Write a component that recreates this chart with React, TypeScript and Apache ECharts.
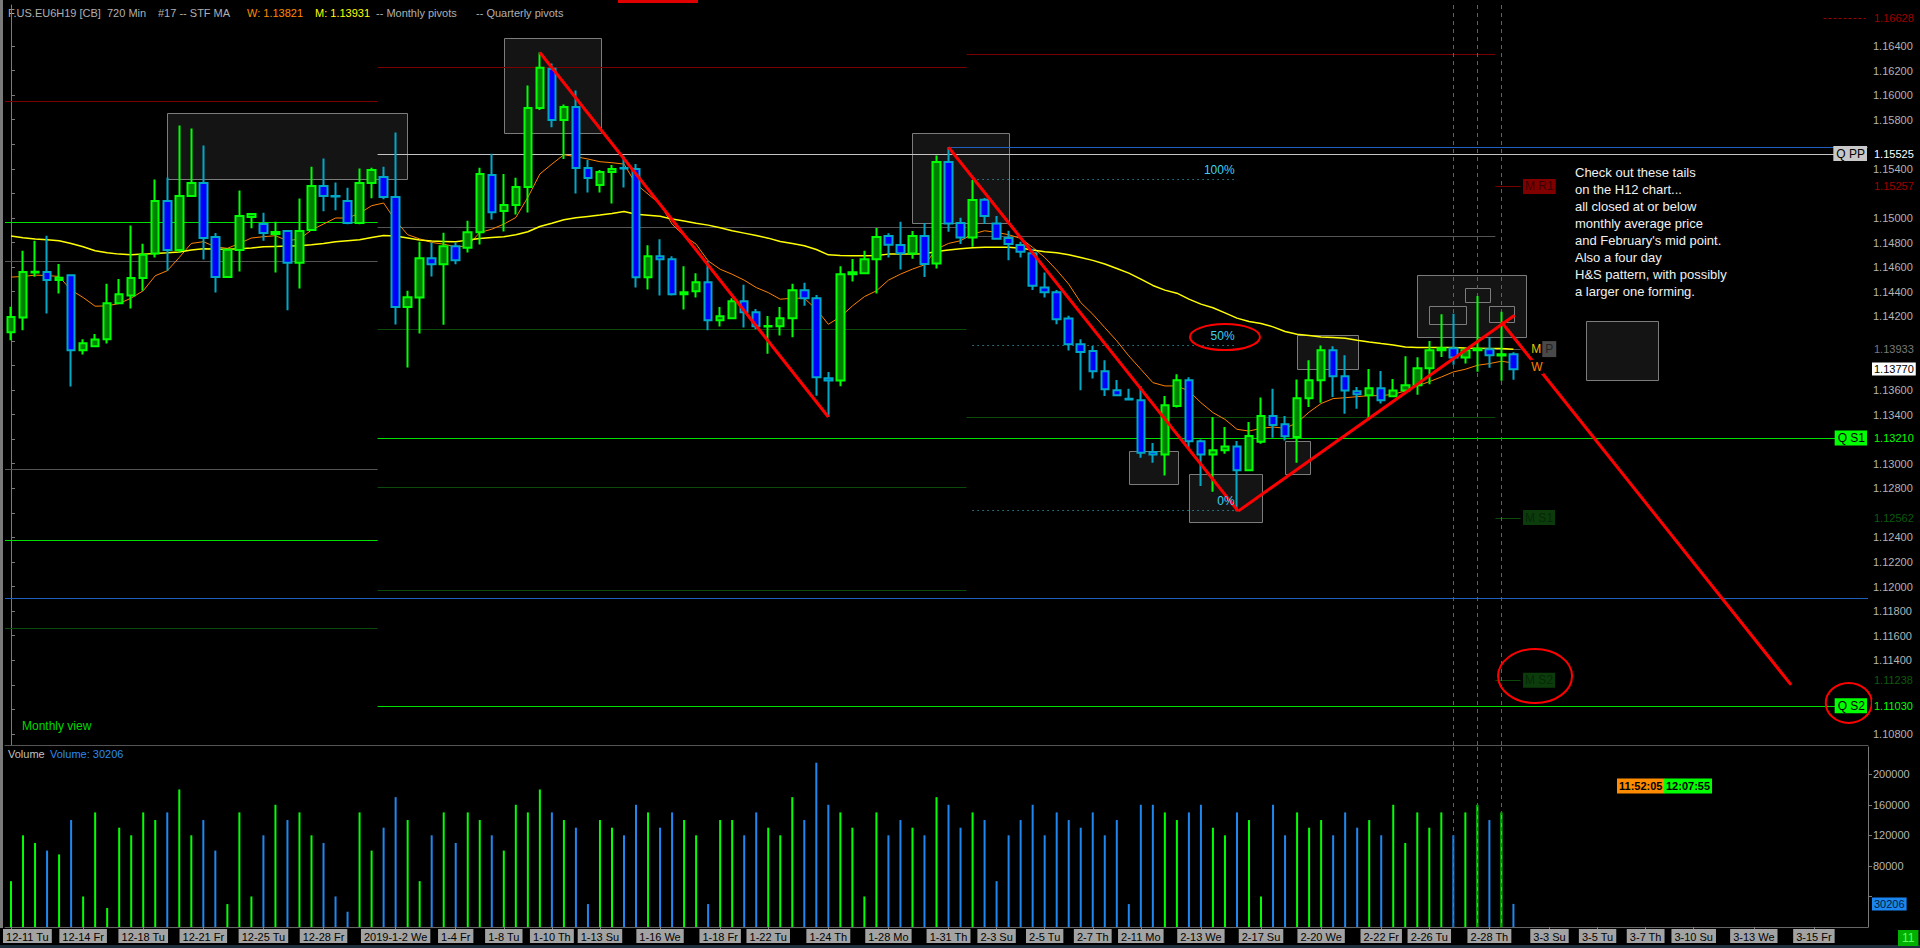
import React, { useEffect, useRef } from "react";
import * as echarts from "echarts";

// [open, close, low, high] per 720-minute bar
const ohlc: number[][] = [
  [1.14070, 1.14195, 1.14005, 1.14277], [1.14190, 1.14560, 1.14087, 1.14734], [1.14556, 1.14562, 1.14522, 1.14815],
  [1.14560, 1.14495, 1.14223, 1.14856], [1.14495, 1.14514, 1.14386, 1.14625], [1.14535, 1.13924, 1.13628, 1.14540],
  [1.13924, 1.13981, 1.13889, 1.14014], [1.13957, 1.14011, 1.13950, 1.14055], [1.14014, 1.14307, 1.13979, 1.14465],
  [1.14307, 1.14380, 1.14299, 1.14503], [1.14370, 1.14511, 1.14264, 1.14938], [1.14511, 1.14701, 1.14408, 1.14791],
  [1.14712, 1.15139, 1.14679, 1.15313], [1.15139, 1.14739, 1.14571, 1.15329], [1.14739, 1.15179, 1.14720, 1.15753],
  [1.15179, 1.15285, 1.15170, 1.15728], [1.15285, 1.14837, 1.14663, 1.15590], [1.14845, 1.14519, 1.14394, 1.14878],
  [1.14519, 1.14742, 1.14511, 1.14747], [1.14739, 1.15016, 1.14565, 1.15223], [1.15008, 1.15033, 1.14916, 1.15041],
  [1.14951, 1.14878, 1.14815, 1.15043], [1.14870, 1.14886, 1.14557, 1.14970], [1.14894, 1.14636, 1.14250, 1.14902],
  [1.14636, 1.14894, 1.14427, 1.15158], [1.14902, 1.15261, 1.14897, 1.15418], [1.15261, 1.15179, 1.15054, 1.15484],
  [1.15179, 1.15176, 1.15063, 1.15288], [1.15139, 1.14959, 1.14950, 1.15247], [1.14959, 1.15285, 1.14950, 1.15402],
  [1.15285, 1.15391, 1.15160, 1.15410], [1.15334, 1.15171, 1.15152, 1.15418], [1.15171, 1.14275, 1.14133, 1.15696],
  [1.14275, 1.14356, 1.13783, 1.14408], [1.14352, 1.14673, 1.14059, 1.14806], [1.14673, 1.14624, 1.14523, 1.14801],
  [1.14624, 1.14771, 1.14132, 1.14880], [1.14771, 1.14657, 1.14624, 1.14801], [1.14757, 1.14885, 1.14719, 1.14977],
  [1.14885, 1.15358, 1.14784, 1.15409], [1.15350, 1.15046, 1.14988, 1.15523], [1.15056, 1.15105, 1.14890, 1.15358],
  [1.15105, 1.15252, 1.15029, 1.15328], [1.15252, 1.15896, 1.15045, 1.16078], [1.15896, 1.16222, 1.15879, 1.16347],
  [1.16214, 1.15798, 1.15738, 1.16257], [1.15798, 1.15904, 1.15480, 1.15923], [1.15904, 1.15407, 1.15200, 1.16037],
  [1.15407, 1.15325, 1.15208, 1.15472], [1.15268, 1.15374, 1.15208, 1.15390], [1.15374, 1.15398, 1.15119, 1.15431],
  [1.15407, 1.15402, 1.15249, 1.15504], [1.15398, 1.14518, 1.14434, 1.15439], [1.14518, 1.14689, 1.14418, 1.14779],
  [1.14689, 1.14665, 1.14369, 1.14828], [1.14665, 1.14379, 1.14370, 1.14689], [1.14379, 1.14396, 1.14255, 1.14608],
  [1.14404, 1.14477, 1.14352, 1.14551], [1.14477, 1.14168, 1.14086, 1.14651], [1.14168, 1.14200, 1.14116, 1.14276],
  [1.14184, 1.14323, 1.14181, 1.14347], [1.14323, 1.14233, 1.14108, 1.14456], [1.14233, 1.14119, 1.14094, 1.14260],
  [1.14116, 1.14121, 1.13896, 1.14203], [1.14119, 1.14184, 1.14043, 1.14276], [1.14184, 1.14412, 1.14029, 1.14464],
  [1.14412, 1.14347, 1.14285, 1.14472], [1.14347, 1.13703, 1.13554, 1.14374], [1.13695, 1.13678, 1.13380, 1.13746],
  [1.13678, 1.14542, 1.13630, 1.14608], [1.14542, 1.14559, 1.14483, 1.14667], [1.14551, 1.14665, 1.14548, 1.14733],
  [1.14665, 1.14845, 1.14386, 1.14918], [1.14853, 1.14782, 1.14679, 1.14875], [1.14780, 1.14714, 1.14581, 1.14970],
  [1.14712, 1.14853, 1.14668, 1.14894], [1.14853, 1.14625, 1.14519, 1.14959], [1.14630, 1.15456, 1.14589, 1.15508],
  [1.15456, 1.14956, 1.14888, 1.15576], [1.14959, 1.14842, 1.14788, 1.15002], [1.14842, 1.15146, 1.14766, 1.15309],
  [1.15149, 1.15016, 1.14951, 1.15163], [1.14956, 1.14831, 1.14828, 1.15016], [1.14837, 1.14788, 1.14657, 1.14896],
  [1.14780, 1.14725, 1.14679, 1.14807], [1.14714, 1.14448, 1.14413, 1.14747], [1.14435, 1.14396, 1.14353, 1.14557],
  [1.14396, 1.14176, 1.14136, 1.14413], [1.14182, 1.13973, 1.13921, 1.14204], [1.13973, 1.13910, 1.13598, 1.14013],
  [1.13918, 1.13753, 1.13693, 1.13959], [1.13753, 1.13606, 1.13552, 1.13842], [1.13598, 1.13557, 1.13554, 1.13682],
  [1.13528, 1.13522, 1.13516, 1.13611], [1.13516, 1.13090, 1.13049, 1.13633], [1.13095, 1.13076, 1.13008, 1.13168],
  [1.13076, 1.13476, 1.12905, 1.13552], [1.13470, 1.13679, 1.13457, 1.13728], [1.13679, 1.13182, 1.13117, 1.13704],
  [1.13182, 1.13076, 1.12818, 1.13198], [1.13076, 1.13109, 1.12772, 1.13380], [1.13109, 1.13141, 1.13081, 1.13299],
  [1.13141, 1.12946, 1.12614, 1.13185], [1.12946, 1.13226, 1.12940, 1.13340], [1.13179, 1.13389, 1.13163, 1.13538],
  [1.13389, 1.13315, 1.13212, 1.13611], [1.13321, 1.13223, 1.13190, 1.13389], [1.13217, 1.13533, 1.13008, 1.13685],
  [1.13533, 1.13679, 1.13462, 1.13842], [1.13679, 1.13924, 1.13497, 1.13962], [1.13924, 1.13712, 1.13543, 1.13956],
  [1.13711, 1.13597, 1.13407, 1.13883], [1.13589, 1.13565, 1.13448, 1.13624], [1.13557, 1.13614, 1.13366, 1.13771],
  [1.13614, 1.13516, 1.13491, 1.13755], [1.13549, 1.13597, 1.13543, 1.13690], [1.13597, 1.13638, 1.13578, 1.13874],
  [1.13638, 1.13777, 1.13562, 1.13866], [1.13777, 1.13923, 1.13646, 1.13999], [1.13923, 1.13940, 1.13869, 1.14217],
  [1.13940, 1.13864, 1.13806, 1.14220], [1.13864, 1.13923, 1.13815, 1.13945], [1.13923, 1.13934, 1.13749, 1.14366],
  [1.13931, 1.13883, 1.13782, 1.14032], [1.13880, 1.13891, 1.13676, 1.14236], [1.13891, 1.13769, 1.13684, 1.13907],
];

const weeklyAvg: number[] = [
  1.14519, 1.14524, 1.14535, 1.14532, 1.14524, 1.14413, 1.14353, 1.14282, 1.14285, 1.14304,
  1.14348, 1.14408, 1.14530, 1.14571, 1.14679, 1.14793, 1.14807, 1.14766, 1.14753, 1.14793,
  1.14837, 1.14848, 1.14856, 1.14815, 1.14829, 1.14902, 1.14951, 1.15000, 1.15000, 1.15038,
  1.15100, 1.15122, 1.14978, 1.14864, 1.14830, 1.14801, 1.14787, 1.14765, 1.14773, 1.14882,
  1.14909, 1.14950, 1.15004, 1.15168, 1.15358, 1.15439, 1.15515, 1.15499, 1.15480, 1.15458,
  1.15450, 1.15439, 1.15276, 1.15195, 1.15113, 1.14950, 1.14855, 1.14787, 1.14651, 1.14583,
  1.14542, 1.14494, 1.14434, 1.14393, 1.14339, 1.14347, 1.14347, 1.14257, 1.14135, 1.14195,
  1.14284, 1.14360, 1.14407, 1.14494, 1.14543, 1.14584, 1.14619, 1.14747, 1.14793, 1.14815,
  1.14869, 1.14896, 1.14883, 1.14864, 1.14834, 1.14761, 1.14679, 1.14576, 1.14462, 1.14312,
  1.14217, 1.14108, 1.14000, 1.13878, 1.13769, 1.13660, 1.13633, 1.13633, 1.13592, 1.13497,
  1.13416, 1.13361, 1.13280, 1.13266, 1.13288, 1.13299, 1.13288, 1.13334, 1.13420, 1.13490,
  1.13530, 1.13537, 1.13546, 1.13554, 1.13554, 1.13565, 1.13592, 1.13633, 1.13668, 1.13706,
  1.13747, 1.13769, 1.13801, 1.13815, 1.13834, 1.13820,
];

const monthlyAvg: number[] = [
  1.14853, 1.14840, 1.14829, 1.14822, 1.14815, 1.14793, 1.14766, 1.14734, 1.14717, 1.14706,
  1.14701, 1.14706, 1.14712, 1.14717, 1.14723, 1.14739, 1.14750, 1.14747, 1.14745, 1.14750,
  1.14755, 1.14766, 1.14769, 1.14772, 1.14774, 1.14782, 1.14793, 1.14807, 1.14815, 1.14823,
  1.14842, 1.14858, 1.14853, 1.14837, 1.14821, 1.14812, 1.14809, 1.14806, 1.14820, 1.14833,
  1.14842, 1.14847, 1.14863, 1.14888, 1.14931, 1.14958, 1.14986, 1.15002, 1.15013, 1.15024,
  1.15037, 1.15053, 1.15031, 1.15023, 1.15015, 1.14991, 1.14975, 1.14958, 1.14942, 1.14920,
  1.14896, 1.14877, 1.14858, 1.14836, 1.14809, 1.14792, 1.14774, 1.14744, 1.14700, 1.14695,
  1.14692, 1.14692, 1.14695, 1.14706, 1.14706, 1.14706, 1.14709, 1.14728, 1.14739, 1.14750,
  1.14758, 1.14761, 1.14761, 1.14761, 1.14755, 1.14739, 1.14725, 1.14717, 1.14701, 1.14679,
  1.14655, 1.14625, 1.14589, 1.14551, 1.14502, 1.14451, 1.14413, 1.14388, 1.14340, 1.14299,
  1.14269, 1.14228, 1.14185, 1.14157, 1.14141, 1.14114, 1.14076, 1.14054, 1.14043, 1.14032,
  1.14027, 1.14021, 1.14005, 1.13991, 1.13978, 1.13967, 1.13950, 1.13945, 1.13945, 1.13945,
  1.13945, 1.13942, 1.13940, 1.13937, 1.13937, 1.13931,
];

const volumes: number[] = [
  60000, 120000, 110000, 100000, 95000, 140000, 40000, 150000, 25000, 130000,
  120000, 150000, 140000, 150000, 180000, 120000, 140000, 100000, 30000, 150000,
  40000, 120000, 160000, 140000, 150000, 120000, 110000, 40000, 20000, 150000,
  100000, 130000, 170000, 140000, 60000, 120000, 150000, 110000, 150000, 140000,
  120000, 100000, 160000, 150000, 180000, 150000, 140000, 130000, 30000, 140000,
  130000, 120000, 160000, 150000, 130000, 150000, 140000, 120000, 30000, 140000,
  140000, 120000, 150000, 130000, 120000, 170000, 140000, 215000, 160000, 150000,
  130000, 40000, 150000, 120000, 140000, 130000, 120000, 170000, 160000, 130000,
  150000, 140000, 60000, 120000, 140000, 160000, 120000, 150000, 140000, 130000,
  150000, 120000, 140000, 30000, 160000, 160000, 150000, 140000, 150000, 160000,
  130000, 120000, 150000, 140000, 40000, 160000, 120000, 150000, 130000, 140000,
  120000, 150000, 130000, 140000, 120000, 160000, 110000, 150000, 130000, 150000,
  120000, 150000, 160000, 140000, 150000, 30206,
];

const totalBars = 155;
const tickLabelText = [
  "12-11 Tu", "12-14 Fr", "12-18 Tu", "12-21 Fr", "12-25 Tu", "12-28 Fr", "2019-1-2 We", "1-4 Fr", "1-8 Tu",
  "1-10 Th", "1-13 Su", "1-16 We", "1-18 Fr", "1-22 Tu", "1-24 Th", "1-28 Mo", "1-31 Th", "2-3 Su", "2-5 Tu",
  "2-7 Th", "2-11 Mo", "2-13 We", "2-17 Su", "2-20 We", "2-22 Fr", "2-26 Tu", "2-28 Th", "3-3 Su", "3-5 Tu",
  "3-7 Th", "3-10 Su", "3-13 We", "3-15 Fr",
];
const tickLabelBar = [
  0, 6, 11, 16, 21, 26, 32, 37, 41, 45, 49, 54, 59, 63, 68, 73, 78, 82, 86, 90, 94, 99, 104, 109, 114, 118,
  123, 128, 132, 136, 140, 145, 150,
];
const priceTicks = [
  1.108, 1.11, 1.112, 1.114, 1.116, 1.118, 1.12, 1.122, 1.124, 1.126, 1.128, 1.13, 1.132, 1.134, 1.136,
  1.138, 1.14, 1.142, 1.144, 1.146, 1.148, 1.15, 1.152, 1.154, 1.156, 1.158, 1.16, 1.162, 1.164,
];
// tick labels that stay visible (the rest sit under the value tags)
const priceTickLabels = [
  1.108, 1.114, 1.116, 1.118, 1.12, 1.122, 1.124, 1.128, 1.13, 1.134, 1.136,
  1.142, 1.144, 1.146, 1.148, 1.15, 1.154, 1.158, 1.16, 1.162, 1.164,
];
const volumeTicks = [40000, 80000, 120000, 160000, 200000];
const volumeTickLabels = [80000, 120000, 160000, 200000];
const priceMin = 1.107106;
const priceMax = 1.167337;
const volumeMax = 235600;

const pivotLevels: { from: number; to: number; price: number; kind: string }[] = [
  { from: -0.5, to: 30.5, price: 1.1595, kind: "mR" },
  { from: -0.5, to: 30.5, price: 1.14965, kind: "qS" },
  { from: -0.5, to: 30.5, price: 1.14648, kind: "mPP" },
  { from: -0.5, to: 30.5, price: 1.12957, kind: "mPP" },
  { from: -0.5, to: 30.5, price: 1.12379, kind: "qS" },
  { from: -0.5, to: 30.5, price: 1.11663, kind: "mS" },
  { from: 30.5, to: 79.5, price: 1.16227, kind: "mR" },
  { from: 30.5, to: 79.5, price: 1.14924, kind: "mPP" },
  { from: 30.5, to: 79.5, price: 1.14094, kind: "mS" },
  { from: 30.5, to: 79.5, price: 1.12807, kind: "mS" },
  { from: 30.5, to: 79.5, price: 1.11972, kind: "mS" },
  { from: 79.5, to: 123.5, price: 1.16331, kind: "mR" },
  { from: 79.5, to: 123.5, price: 1.14851, kind: "mPP" },
  { from: 79.5, to: 123.5, price: 1.13384, kind: "mS" },
  { from: 123.5, to: 125.6, price: 1.15257, kind: "mR" },
  { from: 123.5, to: 125.6, price: 1.13933, kind: "mPP" },
  { from: 123.5, to: 125.6, price: 1.12562, kind: "mS" },
  { from: 123.5, to: 125.6, price: 1.11238, kind: "mS" },
  { from: 30.5, to: 152.3, price: 1.15525, kind: "qPP" },
  { from: 30.5, to: 152.3, price: 1.1321, kind: "qS" },
  { from: 30.5, to: 152.3, price: 1.1103, kind: "qS" },
  { from: -0.5, to: 154.5, price: 1.11911, kind: "blue" },
  { from: 78, to: 154.5, price: 1.15576, kind: "blue" },
  { from: 150.8, to: 154.3, price: 1.16628, kind: "mRdash" },
];
const pivotStyle: Record<string, { stroke: string; dash?: number[] }> = {
  mR: { stroke: "#7a0000" },
  mRdash: { stroke: "#9a0000", dash: [3, 2] },
  mPP: { stroke: "#555555" },
  mS: { stroke: "#0b4a0b" },
  qS: { stroke: "#00e000" },
  qPP: { stroke: "#c4c4c4" },
  blue: { stroke: "#1f5fc0" },
};

// boxes: [fromBar, toBar, topPrice, bottomPrice]
const boxes: number[][] = [
  [13.0, 33.0, 1.15855, 1.15317], [41.0, 49.1, 1.16465, 1.15692], [75.0, 83.1, 1.15692, 1.14959],
  [93.0, 97.1, 1.13104, 1.12835], [98.0, 104.1, 1.12916, 1.12526], [106.0, 108.1, 1.13185, 1.12916],
  [107.0, 112.1, 1.14048, 1.13771], [117.0, 126.1, 1.14536, 1.14031], [118.0, 121.1, 1.14284, 1.14137],
  [121.0, 123.1, 1.1443, 1.14316], [123.0, 125.1, 1.14284, 1.14154], [131.0, 137.0, 1.14162, 1.13681],
];

// trend lines: [fromBar, fromPrice, toBar, toPrice]
const trendLines: number[][] = [
  [44, 1.16347, 68, 1.1338],
  [78, 1.15576, 102.1, 1.12614],
  [102.1, 1.12614, 125.1, 1.14209],
  [124, 1.14154, 148.1, 1.112],
];

const fibFrom = 80;
const fibTo = 101.8;
const fibLabels = ["100%", "50%", "0%"];
const fibPrices = [1.15315, 1.13964, 1.12623];

const ellipseCenters: number[][] = [[101.0, 1.14031], [126.8, 1.11272], [152.9, 1.11053]];
const ellipseRadii: number[][] = [[35, 13], [37, 27], [23, 20]];

const axisTagPrices = [1.16628, 1.15525, 1.15257, 1.13933, 1.1377, 1.1321, 1.12562, 1.11238, 1.1103];
const axisTagKinds = ["mR", "qPP", "mR", "mPP", "last", "qS", "mS", "mS", "qS"];
const axisTagStyle: Record<string, { fill: string; bg: string }> = {
  mR: { fill: "#a00000", bg: "#000" },
  qPP: { fill: "#ffffff", bg: "#000" },
  mPP: { fill: "#7a7a7a", bg: "#000" },
  last: { fill: "#000", bg: "#ffffff" },
  qS: { fill: "#00ff00", bg: "#000" },
  mS: { fill: "#0e5a0e", bg: "#000" },
};
const nameTagText = ["Q PP", "Q S1", "Q S2"];
const nameTagPrices = [1.15525, 1.1321, 1.1103];
const monthTagText = ["M R1", "M S1", "M S2"];
const monthTagPrices = [1.15257, 1.12562, 1.11238];
const monthTagBar = 125.8;
const maTagBar = 126.4;

const verticalMarkers = [120, 122, 124];

const noteLines = [
  "Check out these tails",
  "on the H12 chart...",
  "all closed at or below",
  "monthly average price",
  "and February's mid point.",
  "Also a four day",
  "H&S pattern, with possibly",
  "a larger one forming.",
];

const FONT = "'Liberation Sans', Arial, sans-serif";

function buildOption() {
  const categories = Array.from({ length: totalBars }, (_, i) => {
    const k = tickLabelBar.indexOf(i);
    return k >= 0 ? tickLabelText[k] : "bar" + i;
  });
  const isLabeled = (index: number) => tickLabelBar.indexOf(index) >= 0;
  // the first label is drawn left-aligned by the custom series below
  const isAxisLabeled = (index: number) => index !== tickLabelBar[0] && isLabeled(index);
  const up = ohlc.map((c) => c[1] >= c[0]);
  const axisLabelStyle = { fill: "#000", backgroundColor: "#a3a3a3", padding: [2, 3, 1, 3], font: "11px " + FONT };

  const renderUnder = (_params: any, api: any) => {
    const children: any[] = [];
    boxes.forEach((b) => {
      const p1 = api.coord([b[0], b[2]]);
      const p2 = api.coord([b[1], b[3]]);
      children.push({
        type: "rect",
        shape: { x: Math.round(p1[0]) + 0.5, y: Math.round(p1[1]) + 0.5, width: Math.round(p2[0] - p1[0]), height: Math.round(p2[1] - p1[1]) },
        style: { fill: "#141414", stroke: "#7c7c7c", lineWidth: 1 },
      });
    });
    pivotLevels.forEach((p) => {
      const a = api.coord([p.from, p.price]);
      const b = api.coord([p.to, p.price]);
      const y = Math.round(a[1]) + 0.5;
      const st = pivotStyle[p.kind];
      children.push({
        type: "line",
        shape: { x1: a[0], y1: y, x2: b[0], y2: y },
        style: { stroke: st.stroke, lineWidth: 1, lineDash: st.dash || null },
      });
    });
    fibPrices.forEach((price) => {
      const a = api.coord([fibFrom, price]);
      const b = api.coord([fibTo, price]);
      const y = Math.round(a[1]) + 0.5;
      children.push({
        type: "line",
        shape: { x1: a[0], y1: y, x2: b[0], y2: y },
        style: { stroke: "#3fc4de", lineWidth: 1, lineDash: [1, 4] },
      });
    });
    return { type: "group", children };
  };

  const renderOver = (_params: any, api: any) => {
    const children: any[] = [];
    trendLines.forEach((t) => {
      const a = api.coord([t[0], t[1]]);
      const b = api.coord([t[2], t[3]]);
      children.push({ type: "line", shape: { x1: a[0], y1: a[1], x2: b[0], y2: b[1] }, style: { stroke: "#ff0000", lineWidth: 3 } });
    });
    fibPrices.forEach((price, i) => {
      const a = api.coord([fibTo, price]);
      children.push({
        type: "text",
        x: a[0],
        y: a[1] - 9,
        style: { text: fibLabels[i], fill: "#3fd0ee", font: "12px " + FONT, align: "right", verticalAlign: "middle" },
      });
    });
    ellipseCenters.forEach((c, i) => {
      const p = api.coord([c[0], c[1]]);
      children.push({
        type: "ellipse",
        shape: { cx: p[0], cy: p[1], rx: ellipseRadii[i][0], ry: ellipseRadii[i][1] },
        style: { fill: "none", stroke: "#ff0000", lineWidth: 2 },
      });
    });
    monthTagText.forEach((t, i) => {
      const p = api.coord([monthTagBar, monthTagPrices[i]]);
      const red = t.indexOf("R") >= 0;
      children.push({
        type: "text",
        x: p[0],
        y: p[1],
        style: {
          text: t, fill: red ? "#3a0000" : "#062806", backgroundColor: red ? "#800000" : "#0c3c0c",
          padding: [2, 2, 1, 2], font: "12px " + FONT, align: "left", verticalAlign: "middle",
        },
      });
    });
    const pm = api.coord([maTagBar, 1.13933]);
    const pw = api.coord([maTagBar, 1.13821]);
    children.push({ type: "text", x: pm[0], y: pm[1], style: { text: "M", fill: "#e8c000", backgroundColor: "#000", padding: [1, 1], font: "12px " + FONT, align: "left", verticalAlign: "middle" } });
    children.push({ type: "text", x: pm[0] + 12, y: pm[1], style: { text: "P", fill: "#222", backgroundColor: "#4a4a4a", padding: [2, 3], font: "12px " + FONT, align: "left", verticalAlign: "middle" } });
    children.push({ type: "text", x: pw[0], y: pw[1] + 4, style: { text: "W", fill: "#ff8000", backgroundColor: "#000", padding: [1, 1], font: "12px " + FONT, align: "left", verticalAlign: "middle" } });

    const right = api.coord([totalBars - 0.5, 1.14])[0];
    nameTagText.forEach((t, i) => {
      const p = api.coord([totalBars - 0.5, nameTagPrices[i]]);
      const isPP = t === "Q PP";
      children.push({
        type: "text",
        x: right - 1,
        y: p[1],
        style: {
          text: t, fill: "#000", backgroundColor: isPP ? "#c8c8c8" : "#00ff00",
          padding: [2, 2, 1, 3], font: "12px " + FONT, align: "right", verticalAlign: "middle",
        },
      });
    });
    axisTagPrices.forEach((price, i) => {
      const p = api.coord([totalBars - 0.5, price]);
      const st = axisTagStyle[axisTagKinds[i]];
      children.push({
        type: "text",
        x: right + 4,
        y: p[1],
        style: {
          text: price.toFixed(5), fill: st.fill, backgroundColor: st.bg,
          padding: [1, 2, 1, 2], font: "11px " + FONT, align: "left", verticalAlign: "middle",
        },
      });
    });
    return { type: "group", children };
  };

  const renderVolumeExtras = (_params: any, api: any) => {
    const last = volumes[volumes.length - 1];
    const p = api.coord([totalBars - 1, last]);
    const half = api.size([1, 0])[0] / 2;
    const first = api.coord([tickLabelBar[0], 0]);
    return {
      type: "group",
      children: [
        {
          type: "text",
          x: p[0] + half + 4,
          y: p[1],
          style: {
            text: String(last), fill: "#001a40", backgroundColor: "#1b86f0",
            padding: [1, 2, 1, 2], font: "11px " + FONT, align: "left", verticalAlign: "middle",
          },
        },
        {
          type: "text",
          x: first[0] - 8,
          y: first[1] + 2,
          style: { ...axisLabelStyle, text: tickLabelText[0], align: "left", verticalAlign: "top" },
        },
      ],
    };
  };

  const vMarkLine = {
    silent: true,
    symbol: "none",
    label: { show: false },
    lineStyle: { color: "#7a3ce0", type: [4, 4], width: 1 },
    data: verticalMarkers.map((b) => ({ xAxis: b })),
  };

  return {
    animation: false,
    backgroundColor: "#000",
    textStyle: { fontFamily: FONT },
    grid: [
      { left: 5, right: 52, top: 5, height: 740 },
      { left: 5, right: 52, top: 747, height: 180 },
    ],
    xAxis: [
      {
        type: "category", gridIndex: 0, data: categories, boundaryGap: true,
        axisLine: { show: true, lineStyle: { color: "#555" } }, axisTick: { show: false }, axisLabel: { show: false },
        splitLine: { show: false },
      },
      {
        type: "category", gridIndex: 1, data: categories, boundaryGap: true,
        axisLine: { show: true, lineStyle: { color: "#666" } },
        axisTick: { show: true, interval: isLabeled, alignWithLabel: true, length: 3, lineStyle: { color: "#888" } },
        axisLabel: {
          interval: isAxisLabeled, color: "#000", backgroundColor: "#a3a3a3", padding: [2, 3, 1, 3],
          fontSize: 11, fontFamily: FONT, margin: 2,
        },
        splitLine: { show: false },
      },
      { type: "value", gridIndex: 0, min: -0.5, max: totalBars - 0.5, show: false },
    ],
    yAxis: [
      {
        type: "value", gridIndex: 0, position: "right", min: priceMin, max: priceMax, scale: true,
        axisLine: { show: true, lineStyle: { color: "#7a7a7a" } },
        axisTick: { show: true, customValues: priceTicks, length: 4, lineStyle: { color: "#7a7a7a" } },
        axisLabel: {
          customValues: priceTickLabels, formatter: (v: number) => v.toFixed(5), color: "#b4b4b4",
          fontSize: 11, fontFamily: FONT, margin: 5,
        },
        splitLine: { show: false },
      },
      {
        type: "value", gridIndex: 1, position: "right", min: 0, max: volumeMax,
        axisLine: { show: true, lineStyle: { color: "#7a7a7a" } },
        axisTick: { show: true, customValues: volumeTicks, length: 4, lineStyle: { color: "#7a7a7a" } },
        axisLabel: {
          customValues: volumeTickLabels, formatter: (v: number) => String(v), color: "#b4b4b4",
          fontSize: 11, fontFamily: FONT, margin: 5,
        },
        splitLine: { show: false },
      },
    ],
    series: [
      {
        type: "custom", name: "under", xAxisIndex: 2, yAxisIndex: 0, z: 1, clip: false,
        data: [[0, 1.14]], renderItem: renderUnder, silent: true,
      },
      {
        type: "candlestick", name: "EU6H19", xAxisIndex: 0, yAxisIndex: 0, z: 5,
        data: ohlc, barWidth: 8,
        itemStyle: { color: "#008000", color0: "#0000ff", borderColor: "#00ff00", borderColor0: "#00a8c8", borderWidth: 2 },
        markLine: vMarkLine,
      },
      {
        type: "line", name: "Weekly", xAxisIndex: 0, yAxisIndex: 0, z: 4, data: weeklyAvg,
        showSymbol: false, lineStyle: { color: "#ff8000", width: 1 },
      },
      {
        type: "line", name: "Monthly", xAxisIndex: 0, yAxisIndex: 0, z: 4, data: monthlyAvg,
        showSymbol: false, lineStyle: { color: "#ffff00", width: 1.5 },
      },
      {
        type: "custom", name: "over", xAxisIndex: 2, yAxisIndex: 0, z: 10, clip: false,
        data: [[0, 1.14]], renderItem: renderOver, silent: true,
      },
      {
        type: "bar", name: "Volume", xAxisIndex: 1, yAxisIndex: 1, barWidth: 2,
        data: volumes.map((v, i) => ({ value: v, itemStyle: { color: up[i] ? "#00ff00" : "#1e88f0" } })),
        markLine: vMarkLine,
      },
      {
        type: "custom", name: "volExtras", xAxisIndex: 1, yAxisIndex: 1, z: 10, clip: false,
        data: [[0, 0]], renderItem: renderVolumeExtras, silent: true,
      },
    ],
    graphic: [
      { type: "rect", left: 0, top: 0, shape: { width: 3, height: 928 }, style: { fill: "#7a7a7a" } },
      { type: "rect", x: 618, y: 0, shape: { width: 80, height: 3 }, style: { fill: "#e00000" } },
      { type: "rect", x: 0, y: 945, shape: { width: 1920, height: 3 }, style: { fill: "#1d2c3a" } },
      { type: "text", x: 8, y: 13, style: { text: "F.US.EU6H19 [CB]", fill: "#b0b0b0", font: "11px " + FONT, verticalAlign: "middle" } },
      { type: "text", x: 107, y: 13, style: { text: "720 Min", fill: "#b0b0b0", font: "11px " + FONT, verticalAlign: "middle" } },
      { type: "text", x: 158, y: 13, style: { text: "#17 -- STF MA", fill: "#b0b0b0", font: "11px " + FONT, verticalAlign: "middle" } },
      { type: "text", x: 247, y: 13, style: { text: "W: 1.13821", fill: "#ff8a00", font: "11px " + FONT, verticalAlign: "middle" } },
      { type: "text", x: 315, y: 13, style: { text: "M: 1.13931", fill: "#ffff00", font: "11px " + FONT, verticalAlign: "middle" } },
      { type: "text", x: 376, y: 13, style: { text: "-- Monthly pivots", fill: "#b0b0b0", font: "11px " + FONT, verticalAlign: "middle" } },
      { type: "text", x: 476, y: 13, style: { text: "-- Quarterly pivots", fill: "#b0b0b0", font: "11px " + FONT, verticalAlign: "middle" } },
      { type: "text", x: 22, y: 726, style: { text: "Monthly view", fill: "#00d800", font: "12px " + FONT, verticalAlign: "middle" } },
      {
        type: "text", x: 1575, y: 164,
        style: { text: noteLines.join("\n"), fill: "#f0f0f0", font: "13px " + FONT, lineHeight: 17, verticalAlign: "top" },
      },
      { type: "text", x: 8, y: 754, style: { text: "Volume", fill: "#c0c0c0", font: "11px " + FONT, verticalAlign: "middle" } },
      { type: "text", x: 50, y: 754, style: { text: "Volume: 30206", fill: "#2a8cf0", font: "11px " + FONT, verticalAlign: "middle" } },
      {
        type: "text", x: 1617, y: 786,
        style: { text: "11:52:05", fill: "#000", backgroundColor: "#ff8c00", padding: [2, 2], font: "bold 11px " + FONT, verticalAlign: "middle" },
      },
      {
        type: "text", x: 1664, y: 786,
        style: { text: "12:07:55", fill: "#000", backgroundColor: "#00ff00", padding: [2, 2], font: "bold 11px " + FONT, verticalAlign: "middle" },
      },
      {
        type: "text", x: 1898, y: 938,
        style: { text: "11", fill: "#60ff60", backgroundColor: "#00b000", padding: [2, 4], font: "12px " + FONT, verticalAlign: "middle" },
      },
    ],
  };
}

export default function App() {
  const ref = useRef<HTMLDivElement>(null);
  useEffect(() => {
    const el = ref.current;
    if (!el) return;
    const chart = echarts.init(el, null, { renderer: "svg" });
    chart.setOption(buildOption() as any);
    return () => chart.dispose();
  }, []);
  return (
    <div
      ref={ref}
      style={{ position: "fixed", left: 0, top: 0, width: 1920, height: 948, background: "#000" }}
    />
  );
}
